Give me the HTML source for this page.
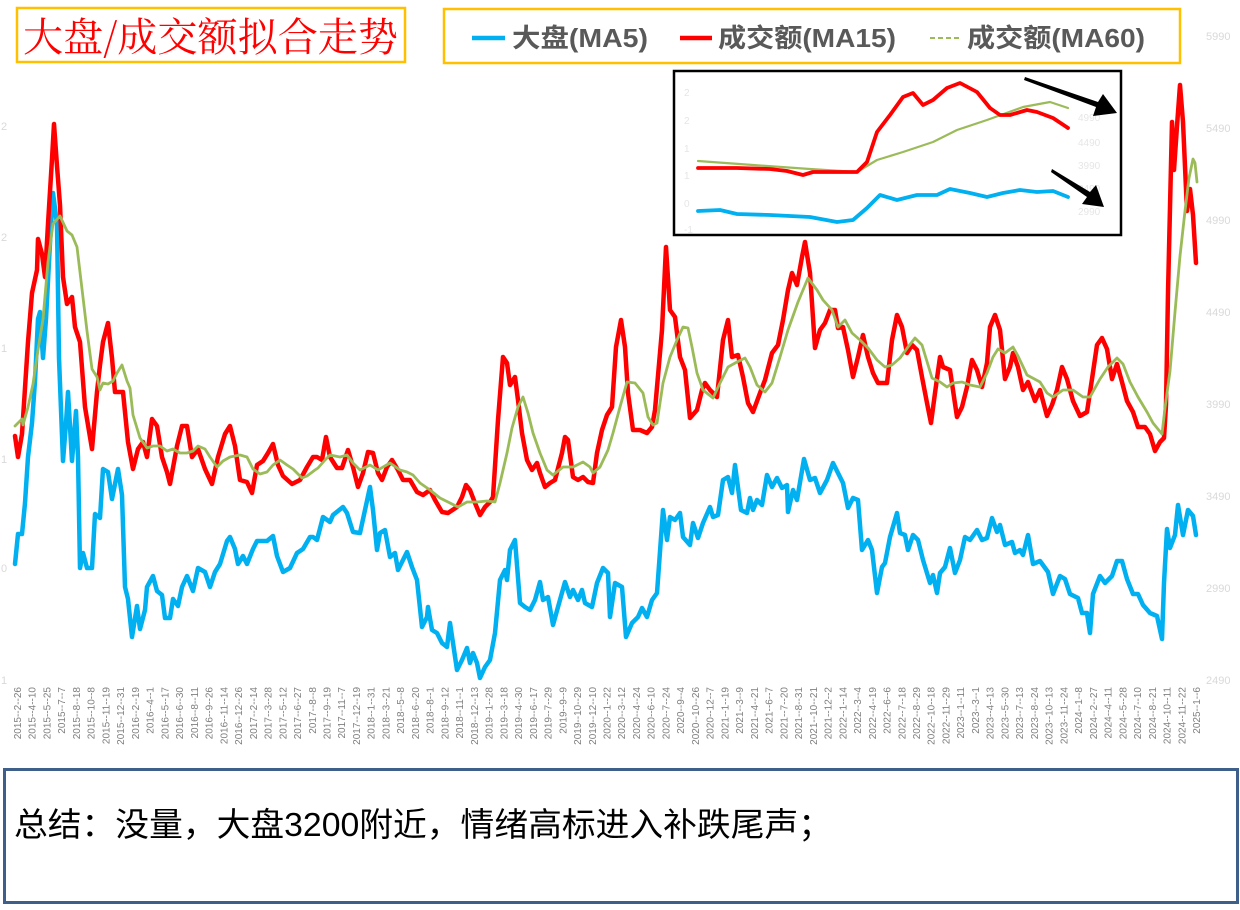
<!DOCTYPE html>
<html><head><meta charset="utf-8"><style>
body{margin:0;background:#fff;}
svg{display:block;}
</style></head><body>
<svg width="1240" height="910" xmlns="http://www.w3.org/2000/svg" font-family="Liberation Sans, Noto Sans CJK SC, sans-serif">
<rect width="1240" height="910" fill="#fff"/>
<g fill="#d9d9d9" font-size="11" text-anchor="start">
<text x="1206" y="40">5990</text><text x="1206" y="132">5490</text><text x="1206" y="224">4990</text><text x="1206" y="316">4490</text><text x="1206" y="408">3990</text><text x="1206" y="500">3490</text><text x="1206" y="592">2990</text><text x="1206" y="684">2490</text>
</g>
<g fill="#d9d9d9" font-size="11">
<text x="1" y="130">2</text><text x="1" y="241">2</text><text x="1" y="352">1</text><text x="1" y="463">1</text><text x="1" y="572">0</text><text x="1" y="684">1</text>
</g>
<rect x="17" y="8" width="388" height="54" fill="#fff" stroke="#ffc000" stroke-width="2.5"/>
<text x="23" y="51" fill="#ff0000" font-size="40" font-family="Noto Serif CJK SC, serif" textLength="375" lengthAdjust="spacingAndGlyphs">大盘/成交额拟合走势</text>
<rect x="444" y="9" width="736" height="54" fill="#fff" stroke="#ffc000" stroke-width="2.5"/>
<line x1="472" y1="38" x2="505" y2="38" stroke="#00b0f0" stroke-width="4.5"/>
<text x="512" y="47" fill="#595959" font-size="26" font-weight="bold" textLength="136" lengthAdjust="spacingAndGlyphs">大盘(MA5)</text>
<line x1="680" y1="38" x2="712" y2="38" stroke="#ff0000" stroke-width="4.5"/>
<text x="718" y="47" fill="#595959" font-size="26" font-weight="bold" textLength="178" lengthAdjust="spacingAndGlyphs">成交额(MA15)</text>
<line x1="930" y1="38" x2="961" y2="38" stroke="#9bbb59" stroke-width="2" stroke-dasharray="5,3"/>
<text x="967" y="47" fill="#595959" font-size="26" font-weight="bold" textLength="178" lengthAdjust="spacingAndGlyphs">成交额(MA60)</text>

<g fill="none" stroke-linejoin="round" stroke-linecap="round">
<polyline stroke="#00b0f0" stroke-width="4.5" points="15,564 18,534 22,534 25,503 28,457 32,423 35,381 38,319 40,312 43,358 46,319 50,243 53,193 57,224 59,358 63,461 66,423 68,392 72,461 76,411 78,457 80,568 83,553 87,568 92,568 95,514 100,518 103,469 108,472 112,499 118,469 122,495 125,587 128,599 132,637 137,606 140,629 145,610 147,587 153,576 157,591 162,595 165,618 170,618 173,599 178,606 182,587 187,576 193,591 198,568 205,572 210,587 215,572 220,564 227,541 230,537 235,549 238,564 243,556 247,564 253,549 257,541 267,541 273,536 277,556 283,572 290,568 297,553 303,549 310,537 313,537 317,540 323,517 330,522 333,515 343,507 347,513 353,532 360,533 365,510 370,487 373,510 377,550 380,533 385,530 390,557 395,553 398,570 407,552 412,567 417,580 422,627 427,617 428,607 432,630 437,633 442,643 447,647 450,623 453,643 457,670 462,660 467,648 470,663 473,653 477,663 480,678 485,667 490,660 495,633 500,580 505,570 507,580 510,550 515,540 520,603 525,607 530,610 535,600 540,582 543,600 548,597 553,625 558,607 565,582 570,597 573,590 578,600 582,590 585,603 592,607 597,583 603,568 608,573 610,617 615,583 622,587 626,637 632,623 638,617 642,608 647,617 652,600 657,593 663,510 667,540 670,517 675,520 680,513 683,537 690,545 693,523 698,538 703,523 710,507 713,517 718,515 723,480 728,477 732,493 735,465 741,510 747,513 750,498 753,510 757,500 762,505 767,475 772,487 777,478 782,488 787,485 788,512 793,490 797,500 804,459 810,480 815,478 820,493 827,480 833,463 838,473 843,483 848,508 853,498 858,500 862,550 868,540 872,550 877,593 882,567 885,563 890,537 897,513 900,533 905,535 908,550 913,535 918,540 923,560 930,583 933,575 937,593 940,573 945,567 950,548 955,573 960,560 965,537 970,540 977,530 982,540 987,538 992,518 997,532 1000,525 1005,545 1012,542 1015,553 1020,550 1023,555 1028,535 1033,564 1040,561 1048,572 1053,594 1060,576 1065,579 1070,594 1078,598 1082,613 1087,613 1090,633 1093,594 1100,576 1105,583 1112,576 1117,561 1122,561 1127,579 1133,594 1138,594 1143,605 1150,613 1157,616 1162,639 1164,583 1167,529 1170,548 1175,535 1178,505 1183,535 1188,510 1193,516 1196,535"/>
<polyline stroke="#ff0000" stroke-width="4.5" points="15,436 18,457 22,434 25,388 28,342 32,293 37,270 38,239 42,254 45,277 48,224 52,159 54,124 57,166 60,205 63,277 67,304 72,297 75,327 80,342 85,407 92,449 97,392 100,365 103,342 108,323 112,358 115,392 123,392 128,442 133,469 138,449 143,442 147,457 152,419 157,426 162,457 167,472 170,484 177,446 182,426 187,426 192,457 198,449 205,469 212,484 218,457 225,434 230,426 235,446 240,480 247,482 252,493 257,465 263,461 268,453 273,444 278,465 283,476 292,484 300,480 307,467 313,457 317,457 322,460 326,437 330,457 337,468 342,468 348,450 353,467 358,487 363,473 368,452 373,453 378,473 382,480 387,467 392,460 398,470 403,480 410,480 417,492 423,495 430,490 435,500 442,512 448,513 457,507 462,497 466,485 470,490 475,503 480,515 485,507 490,502 493,497 498,420 503,357 507,363 510,385 515,377 518,400 522,433 527,460 532,470 537,463 540,473 545,487 550,483 555,480 562,453 565,437 568,440 573,477 578,480 583,477 588,482 593,483 597,453 602,430 607,415 612,407 616,347 621,320 625,347 628,393 633,430 640,430 647,433 652,427 655,410 662,330 666,247 670,310 675,317 680,357 685,370 690,418 697,410 702,390 705,383 710,390 717,397 723,340 728,320 732,357 738,355 743,377 748,403 753,412 760,393 765,380 772,353 778,345 783,320 788,290 792,273 797,285 802,257 805,242 810,273 815,348 820,330 825,323 830,310 835,310 838,328 843,327 848,350 853,377 858,357 863,335 868,357 873,373 878,383 887,383 892,340 897,315 902,327 907,353 912,345 917,350 922,377 927,403 931,423 935,393 940,357 943,367 950,370 957,417 962,407 967,387 972,360 977,370 982,387 987,363 990,327 995,315 1000,330 1005,379 1010,367 1013,353 1018,367 1023,390 1028,382 1035,401 1040,390 1047,416 1052,405 1057,390 1062,367 1067,379 1073,401 1080,416 1087,412 1092,379 1097,345 1102,338 1107,349 1112,379 1117,364 1122,382 1127,401 1133,412 1138,427 1145,427 1150,434 1155,451 1160,442 1164,438 1166,405 1168,293 1172,122 1174,170 1177,126 1180,85 1183,122 1187,211 1190,189 1193,215 1196,263"/>
<polyline stroke="#9bbb59" stroke-width="2.8" points="15,426 22,419 23,425 28,407 33,384 38,350 43,319 48,262 53,224 60,216 67,231 72,235 77,247 82,289 87,331 92,369 97,377 100,390 103,383 108,384 113,381 117,373 122,365 127,381 130,388 133,415 140,438 147,448 153,446 160,446 167,451 173,449 180,453 187,453 193,451 198,446 205,449 210,457 217,467 223,461 230,457 240,455 247,457 253,469 260,474 267,472 273,465 280,460 287,465 293,469 302,478 307,476 315,470 318,468 325,460 330,455 340,457 347,455 353,463 360,470 370,465 378,470 390,463 400,470 407,472 413,475 420,483 430,490 440,498 450,503 458,507 467,502 477,502 487,501 495,502 500,483 507,453 512,428 518,407 523,397 528,413 533,433 540,453 547,470 553,475 563,467 573,467 583,462 590,467 593,473 600,467 608,450 613,433 620,407 627,382 635,383 643,393 648,417 653,425 657,423 663,383 670,357 677,340 683,327 688,328 692,347 697,373 703,390 713,398 720,383 728,367 737,362 745,358 750,367 757,385 765,392 772,383 780,357 788,330 798,302 808,278 817,290 823,300 832,310 838,327 845,320 852,333 860,340 868,348 877,360 885,367 892,365 900,358 908,347 915,338 922,345 932,378 940,382 947,387 953,383 962,382 970,385 980,387 987,373 993,357 998,349 1005,353 1013,347 1018,356 1027,375 1040,382 1047,393 1053,397 1063,390 1073,390 1083,397 1090,397 1100,379 1108,367 1117,358 1123,364 1130,382 1138,397 1147,412 1153,423 1162,434 1165,408 1170,371 1175,312 1180,256 1185,211 1189,178 1193,159 1195,163 1197,182"/>
</g>

<rect x="674" y="71" width="447" height="164" fill="#fff" stroke="#000" stroke-width="2.5"/>
<g fill="#e6e6e6" font-size="10">
<text x="684" y="96">2</text><text x="684" y="124">2</text><text x="684" y="152">1</text><text x="684" y="179">1</text><text x="684" y="207">0</text><text x="684" y="233">-1</text>
<text x="1078" y="121">4990</text><text x="1078" y="146">4490</text><text x="1078" y="169">3990</text><text x="1078" y="192">3490</text><text x="1078" y="215">2990</text>
</g>
<g fill="none" stroke-linejoin="round" stroke-linecap="round">
<polyline stroke="#9bbb59" stroke-width="2.2" points="698,161 753,165 810,169 857,172 877,160 903,152 933,142 957,130 987,120 1023,107 1050,102 1068,108"/>
<polyline stroke="#ff0000" stroke-width="3.8" points="698,168 737,168 770,169 787,171 803,175 813,172 857,172 867,162 877,132 890,115 903,97 913,93 923,105 933,100 947,88 960,83 977,92 990,108 1000,115 1010,115 1027,110 1037,112 1053,118 1068,128"/>
<polyline stroke="#00b0f0" stroke-width="3.8" points="698,211 720,210 737,214 770,215 810,217 837,222 853,220 867,208 880,195 897,200 917,195 937,195 950,189 970,193 987,197 1003,193 1020,190 1037,192 1053,191 1068,197"/>
</g>
<polygon points="1025,77 1098,102 1103,94 1117,113 1093,116 1096,107 1024,80" fill="#000"/>
<polygon points="1052,169 1090,192 1096,185 1104,207 1082,204 1087,197 1051,172" fill="#000"/>

<g fill="#7f7f7f" font-size="10" text-anchor="end" id="xl"></g>

<rect x="4.5" y="769.5" width="1233" height="133" fill="#fff" stroke="#3d5f8a" stroke-width="3"/>
<text x="14" y="836" font-size="33" fill="#000" font-family="Liberation Sans, Noto Sans CJK SC, sans-serif" textLength="818" lengthAdjust="spacingAndGlyphs">总结：没量，大盘3200附近，情绪高标进入补跌尾声；</text>
</svg>
<script>
var L="2015-2-26,2015-4-10,2015-5-25,2015-7-7,2015-8-18,2015-10-8,2015-11-19,2015-12-31,2016-2-19,2016-4-1,2016-5-17,2016-6-30,2016-8-11,2016-9-26,2016-11-14,2016-12-26,2017-2-14,2017-3-28,2017-5-12,2017-6-27,2017-8-8,2017-9-19,2017-11-7,2017-12-19,2018-1-31,2018-3-21,2018-5-8,2018-6-20,2018-8-1,2018-9-12,2018-11-1,2018-12-13,2019-1-28,2019-3-18,2019-4-30,2019-6-17,2019-7-29,2019-9-9,2019-10-29,2019-12-10,2020-1-22,2020-3-12,2020-4-24,2020-6-10,2020-7-24,2020-9-4,2020-10-26,2020-12-7,2021-1-19,2021-3-9,2021-4-21,2021-6-7,2021-7-20,2021-8-31,2021-10-21,2021-12-2,2022-1-14,2022-3-4,2022-4-19,2022-6-6,2022-7-18,2022-8-29,2022-10-18,2022-11-29,2023-1-11,2023-3-1,2023-4-13,2023-5-30,2023-7-13,2023-8-24,2023-10-13,2023-11-24,2024-1-8,2024-2-27,2024-4-11,2024-5-28,2024-7-10,2024-8-21,2024-10-11,2024-11-22,2025-1-6".split(",");
var g=document.getElementById("xl"),ns="http://www.w3.org/2000/svg";
for(var i=0;i<L.length;i++){var x=17+i*(1196-17)/(L.length-1)+4;var t=document.createElementNS(ns,"text");t.setAttribute("transform","translate("+x.toFixed(1)+",687) rotate(-90)");t.textContent=L[i].replace(/-/g,"--");g.appendChild(t);}
</script>
</body></html>
